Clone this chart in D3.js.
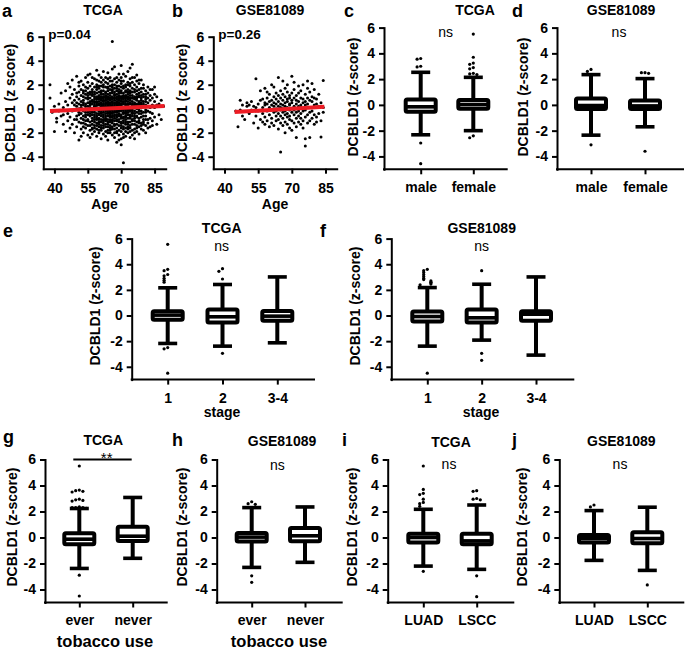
<!DOCTYPE html>
<html><head><meta charset="utf-8">
<script src="https://cdn.jsdelivr.net/npm/d3@7"></script>
<style>
body{margin:0;background:#fff;}
svg{display:block;}
</style></head><body>
<svg id="chart" width="685" height="649"></svg>
<script>
// ---------------- DATA ----------------
const yTicks = [-4, -2, 0, 2, 4, 6];
const ageTicks = [40, 55, 70, 85];

// Panel a: TCGA age vs DCBLD1 (ages, and z-scores listed per age)
const tcgaAges = [38,39,40,41,42,43,44,45,46,47,48,49,50,51,52,53,54,55,56,57,58,59,60,61,62,63,64,65,66,67,68,69,70,71,72,73,74,75,76,77,78,79,80,81,82,83,84,85,86,87,88,89];
const tcgaZ = [
 [2.0,0.9],[-0.3],[-1.9,0.2],[-0.8,-1.1],[0.4,-0.2],[-0.6,1.3],[-1.3,0.1,-0.5],[0.6,-1.9,1.5],
 [2.1,-0.4,0.3,-1.0],[0.9,-0.7,1.8,-1.6],[1.2,-0.2,0.5,-1.3,2.4],[-0.9,0.7,1.6,-0.1,-2.0,0.3],
 [0.2,-1.5,1.0,-0.6,2.7,0.5,1.3,-0.9],
 [-2.6,1.4,-0.3,0.8,-1.1,0.0,1.9,0.4,-0.5,2.2],
 [0.6,-0.8,2.3,-1.7,0.1,1.1,-0.4,-2.3,1.6,-1.2,0.3],
 [1.5,-0.2,0.7,-1.2,0.3,-2.0,1.0,-0.6,2.0,-0.9,0.5,1.3,-1.5],
 [0.4,-1.0,1.8,-0.3,0.9,-1.6,0.0,2.6,-0.7,1.2,1.5,-0.5,0.2,-1.3],
 [-0.5,1.3,0.2,-1.4,0.8,-2.2,1.7,-0.1,0.5,-0.9,2.2,0.9,-0.3,1.1,-1.0,2.8],
 [2.9,-0.4,0.6,-1.1,1.4,0.1,-1.8,0.9,-0.6,1.9,-2.4,0.3,-0.2,1.2,-1.4,0.5,0.0],
 [0.7,-1.3,1.1,-0.2,2.1,-0.8,0.4,-1.6,1.6,-0.5,0.0,-2.1,1.2,1.4,-1.0,0.6,-0.3,2.6,-1.7],
 [-0.9,0.5,1.8,-1.4,0.2,-0.3,2.5,-1.9,1.0,0.6,-0.7,1.4,-1.1,0.1,0.3,-0.5,1.2,-1.6,0.8,-0.1],
 [3.2,0.8,-0.6,1.3,-1.2,0.3,-0.1,2.0,-1.7,0.9,-2.3,1.6,-0.4,0.5,-0.9,1.0,-0.8,0.1,1.8,-1.4,0.6,2.4],
 [-0.2,1.1,-1.5,0.6,2.3,-0.8,0.0,1.7,-1.1,0.4,-2.0,1.0,-0.5,2.8,-1.3,0.8,-0.4,1.4,-1.8,0.3,-0.9,1.9],
 [0.7,-0.4,1.5,-1.8,0.2,1.0,-0.9,2.2,-0.1,0.5,-1.4,1.3,-2.5,0.8,-0.6,1.9,-0.3,1.2,0.0,-1.1,0.9,2.6,-1.6,0.4],
 [-1.0,0.3,1.2,-0.3,2.0,-1.6,0.6,-0.7,1.5,0.0,-2.1,0.9,-1.2,2.4,0.4,-0.5,0.7,-0.1,1.8,-0.9,0.2,-1.4,1.0,3.1],
 [1.4,-0.8,0.1,2.6,-1.3,0.7,-0.2,1.0,-1.9,0.4,1.8,-0.6,-2.3,0.9,-1.0,0.2,1.3,-0.4,0.5,1.1,-1.5,0.0,2.2,-0.9,0.7],
 [0.5,-1.1,1.7,-0.4,0.0,2.1,-1.5,0.8,-0.9,1.2,-2.6,0.3,-0.1,1.5,-1.8,0.6,3.0,1.0,-0.6,0.2,-1.3,1.8,-0.3,0.9,-2.0,2.5],
 [-0.3,0.9,-1.4,1.6,0.2,-0.7,2.3,-1.0,0.5,-2.0,1.1,-0.2,0.7,-1.6,1.9,-0.5,0.1,0.4,-1.1,1.3,-0.4,0.8,-1.8,0.0,2.6,-0.9],
 [5.6,1.0,-0.6,0.3,-1.2,1.8,-0.1,0.6,-2.2,1.3,-0.9,2.0,0.0,-1.5,0.8,-0.4,1.5,3.3,-0.3,0.9,-1.0,1.6,0.2,-1.7,0.5,-0.7,2.3],
 [0.4,-1.0,1.4,-0.2,2.5,-1.7,0.7,-0.5,1.1,-2.4,0.2,1.7,-0.8,0.0,-1.3,0.9,3.5,1.2,-0.3,0.5,-1.4,0.9,-0.6,2.0,0.1,-2.0],
 [-0.7,0.6,1.9,-1.3,0.1,-0.3,1.2,-2.0,0.8,2.2,-0.9,0.3,-1.6,1.5,-0.1,0.5,-2.8,0.4,-1.0,1.0,-0.5,1.7,-1.9,0.2,2.6,-0.2],
 [1.1,-0.4,0.2,-1.8,1.6,0.7,-1.1,2.4,-0.6,0.0,1.3,-2.2,0.4,-0.9,1.9,-0.2,2.9,-0.5,0.9,-1.4,0.5,1.4,-0.1,-2.6,0.7,1.0],
 [0.3,-1.2,1.0,-0.5,2.1,-1.9,0.6,1.5,-0.1,-0.8,0.9,-2.5,1.8,-3.0,0.2,-1.4,2.6,0.7,-0.7,1.3,-0.2,0.4,-1.6,2.3,1.0,-1.1,3.6],
 [-4.5,0.8,-0.3,1.3,-1.5,0.1,2.3,-0.7,0.5,-1.0,1.7,-2.1,0.9,-0.4,1.1,0.0,-1.7,0.4,-1.2,1.0,-0.1,1.9,-0.8,0.6,-2.4,2.9],
 [0.6,-0.9,1.4,-0.2,2.0,-1.6,0.3,1.0,-0.6,-2.3,1.8,0.1,-1.1,0.7,2.7,-0.4,-0.3,1.1,-1.3,0.4,0.9,-0.7,1.5,-1.9,0.0],
 [-0.5,1.2,0.2,-1.3,2.2,-0.1,0.8,-2.0,1.6,-0.8,0.4,3.1,-1.5,0.0,1.0,-0.3,0.6,-1.1,1.4,-0.5,2.0,-1.7,0.3,0.9],
 [1.5,-0.7,0.5,-1.9,0.9,2.5,-0.2,-1.1,1.3,0.1,-2.4,0.7,-0.5,1.9,-1.4,-0.2,1.1,-0.8,0.4,2.1,-1.6,0.0,3.4],
 [3.7,0.2,-1.0,1.1,-0.4,1.7,-1.8,0.6,-0.1,2.2,-0.9,0.9,-2.2,0.4,0.9,-0.6,1.4,-1.3,0.2,2.6,-0.3],
 [-2.5,1.4,-0.6,0.3,2.0,-1.3,0.8,-0.2,1.0,-1.7,0.5,2.6,-0.8,0.4,-1.0,1.6,-0.4,0.9,-2.0,0.1],
 [0.7,-1.1,1.8,-0.3,0.2,-1.9,1.2,-0.6,2.3,0.9,-1.4,0.0,1.0,-0.7,0.4,1.5,-1.6,2.8],
 [-0.8,1.0,0.3,-1.5,1.6,-0.2,2.1,-1.0,0.6,-2.1,1.3,0.5,-0.4,1.1,-1.2,2.4,0.0],
 [0.5,-1.2,1.4,-0.4,0.9,-1.7,2.4,0.1,-0.7,1.1,-0.2,0.7,-1.4,1.7,0.3],
 [-0.3,1.7,-1.3,0.6,-0.9,1.2,0.2,-1.8,2.0,1.0,-0.6,0.4,-1.1],
 [0.8,-0.6,1.5,-1.4,0.3,-0.1,1.0,-2.0,-0.3,1.2,0.6,-0.9],
 [1.3,-0.9,0.5,-0.2,1.8,-1.2,0.2,-1.6,0.9],[0.1,1.1,-0.8,0.7,-1.5,1.6,-0.3],[-0.4,0.9,1.6,-1.0,0.3,-1.4],
 [0.6,-0.7,1.2,1.8,0.1],[-1.3,0.3,1.0],[0.4,-0.5],[0.7,-0.9],[0.2]
];
const tcgaFitAge = [38, 89.5];
const tcgaFitZ = [-0.2, 0.22];

// Panel b: GSE81089 age vs DCBLD1
const gseAges = [45,46,47,48,49,50,51,52,53,54,55,56,57,58,59,60,61,62,63,64,65,66,67,68,69,70,71,72,73,74,75,76,77,78,79,80,81,82,83,84];
const gseZ = [
 [-0.2],[-1.5],[0.7,-0.1],[0.3,-0.6],[-0.9],[0.2,0.5],[-0.4,0.3],[0.6,-0.1],[-1.2,0.2],[2.5,-0.6,0.1],
 [-1.6,0.4,-0.2],[0.7,-0.9,1.5],[0.1,-0.4,0.8,-1.1],[1.7,-0.7,0.3,-1.3,0.5],[-0.2,0.9,-1.0,0.4,1.4],
 [0.6,-0.5,1.2,-1.5,0.1],[-0.8,0.3,2.0,-0.1,0.7,-1.2],[0.5,-1.4,1.0,-0.3,0.2,1.8],[-0.6,0.8,-1.0,1.3,0.0,-0.2,0.4],
 [2.6,-0.4,0.6,-1.7,0.2,1.1,-0.9],[-3.6,0.9,-0.1,-1.2,0.4,1.5,-0.6,0.1],[0.3,-0.8,1.2,2.3,-0.3,0.7,-1.4,0.0],
 [-2.0,1.0,-0.5,0.5,-1.1,1.7,0.2,-0.2],[0.8,-0.7,1.4,-1.3,0.1,2.0,-0.4,0.6],[-0.1,1.1,-0.9,0.4,-1.6,0.9,0.3,-0.6],
 [2.7,-0.3,0.7,-1.0,1.3,0.0,-1.8,0.5],[0.2,-1.2,1.6,-0.5,0.9,-0.1,2.2],[-0.8,0.4,-1.5,1.1,0.0,0.7,-0.3,-2.4],
 [1.3,-0.6,0.6,-1.1,0.2,1.9,-0.2],[-0.4,0.9,-1.3,0.3,1.5,-0.8,0.1],[0.5,-1.0,2.0,-0.2,0.8,-1.6],
 [-3.1,0.3,1.2,-0.7,0.6,-0.1,-2.5],[1.7,-0.5,0.4,-1.2,0.9,2.3],[-0.3,0.7,-1.0,1.4,0.1,-2.4],
 [0.6,-0.8,1.0,-0.2,2.1],[-1.3,0.3,0.9,-0.5,1.6],[0.4,-0.7,-1.1,0.8],[1.2,-0.4,0.2],[-2.35,0.5,-1.0],[2.35,0.1,-0.3]
];
const gseFitAge = [44.5, 84.5];
const gseFitZ = [-0.28, 0.17];

// Box panels: stats = [whisker low, Q1, median, Q3, whisker high]
const sexCats = ["male", "female"];
const stageCats = ["1", "2", "3-4"];
const smokeCats = ["ever", "never"];
const histCats = ["LUAD", "LSCC"];

const cStats = [[-2.32,-0.54,-0.15,0.41,2.53],[-2.0,-0.3,0.03,0.37,2.14]];
const cOut = [[3.6,3.55,3.0,2.95,-2.96,-4.56],[5.5,3.7,3.25,3.15,2.9,2.8,2.45,2.4,2.35,-2.4,-2.55]];
const dStats = [[-2.35,-0.31,-0.05,0.49,2.35],[-1.7,-0.31,-0.08,0.34,2.04]];
const dOut = [[2.75,2.6,-3.1],[2.5,2.5,2.45,-3.6]];
const eStats = [[-2.18,-0.33,0.03,0.33,2.16],[-2.39,-0.54,-0.1,0.46,2.42],[-2.13,-0.41,-0.05,0.36,3.01]];
const eOut = [[5.55,3.6,3.5,3.2,3.1,2.9,2.75,2.6,-2.5,-2.6,-4.5],[3.65,3.45,2.85,-2.95],[]];
const fStats = [[-2.39,-0.47,-0.08,0.31,2.18],[-1.92,-0.54,-0.18,0.46,2.44],[-3.09,-0.41,0.1,0.33,3.01]];
const fOut = [[3.6,3.5,3.35,3.2,3.05,2.9,2.8,2.7,2.6,2.55,2.45,2.4,-4.5],[3.5,-2.95,-3.5],[]];
const gStats = [[-2.38,-0.51,-0.13,0.33,2.23],[-1.6,-0.27,0.1,0.82,3.08]];
const gOut = [[5.5,3.65,3.6,3.55,3.5,2.95,2.9,2.85,2.8,2.35,2.3,2.3,2.3,2.25,-2.9,-4.5],[]];
const hStats = [[-2.3,-0.3,0.03,0.35,2.3],[-1.91,-0.28,0.13,0.74,2.35]];
const hOut = [[2.75,2.6,2.55,-2.95,-3.45],[]];
const iStats = [[-2.2,-0.38,0.0,0.28,2.17],[-2.45,-0.51,-0.26,0.28,2.5]];
const iOut = [[5.5,3.7,3.4,3.3,2.95,2.7,2.6,2.4,-2.6],[3.6,3.55,3.0,2.95,2.9,-2.95,-4.55]];
const jStats = [[-1.76,-0.38,-0.08,0.2,2.07],[-2.53,-0.44,-0.08,0.41,2.33]];
const jOut = [[2.5,2.35],[-3.65]];

// ---------------- DRAWING ----------------
const FONT = '"Liberation Sans", Arial, Helvetica, sans-serif';
const svg = d3.select("#chart").attr("font-family", FONT);
const SW = 4;

function label(x, y, s, size, weight, anchor, rotate) {
  const t = svg.append("text").text(s)
    .attr("font-size", size).attr("font-weight", weight || "normal")
    .attr("text-anchor", anchor || "middle").attr("fill", "#000");
  if (rotate) t.attr("transform", `translate(${x},${y}) rotate(-90)`).attr("dy", "0.35em");
  else t.attr("x", x).attr("y", y);
  return t;
}

function styleAxis(ax) {
  ax.attr("font-size", 14).attr("font-weight", "bold").attr("font-family", FONT);
  ax.select(".domain").attr("stroke", "#000").attr("stroke-width", 2).attr("stroke-linecap", "square");
  ax.selectAll(".tick line").attr("stroke", "#000").attr("stroke-width", 2);
  ax.selectAll(".tick text").attr("fill", "#000");
}

function yAxis(y, x) {
  const ax = svg.append("g").attr("transform", `translate(${x},0)`)
    .call(d3.axisLeft(y).tickValues(yTicks).tickFormat(d => String(d)).tickSize(5).tickSizeOuter(0).tickPadding(4));
  styleAxis(ax);
}

function scatterPanel(cfg, ages, zs, fitA, fitZ, pText) {
  const x = d3.scaleLinear().domain([35, 90]).range([cfg.axisX, cfg.xEnd]);
  const y = d3.scaleLinear().domain([-5, 6]).range([cfg.yBot, cfg.yTop]);
  const pts = ages.flatMap((a, i) => zs[i].map(z => [a, z]));
  svg.append("g").selectAll("circle").data(pts).join("circle")
    .attr("cx", d => x(d[0])).attr("cy", d => y(d[1])).attr("r", 1.5).attr("fill", "#000");
  const fit = fitA.map((a, i) => [a, fitZ[i]]);
  svg.append("path").datum(fit).attr("d", d3.line().x(d => x(d[0])).y(d => y(d[1])))
    .attr("stroke", "#ec1c24").attr("stroke-width", 4).attr("fill", "none");
  yAxis(y, cfg.axisX);
  const ax = svg.append("g").attr("transform", `translate(0,${cfg.yBot})`)
    .call(d3.axisBottom(x).tickValues(ageTicks).tickSize(5).tickSizeOuter(0).tickPadding(9));
  styleAxis(ax);
  label(cfg.axisX + 5, 38.5, pText, 13.5, "bold", "start");
}

function boxPanel(cfg, cats, stats, outs) {
  const y = d3.scaleLinear().domain([-5, 6]).range([cfg.yBot, cfg.yTop]);
  const x = d3.scalePoint().domain(cats).range([cfg.c1, cfg.cN]);
  const g = svg.append("g");
  cats.forEach((c, i) => {
    const [lo, q1, md, q3, hi] = stats[i];
    const cx = x(c);
    g.append("line").attr("x1", cx).attr("x2", cx).attr("y1", y(hi)).attr("y2", y(lo))
      .attr("stroke", "#000").attr("stroke-width", SW);
    [lo, hi].forEach(v => g.append("line").attr("x1", cx - 9.5).attr("x2", cx + 9.5)
      .attr("y1", y(v)).attr("y2", y(v)).attr("stroke", "#000").attr("stroke-width", 3.6));
    g.append("rect").attr("x", cx - 15).attr("width", 30).attr("y", y(q3)).attr("height", y(q1) - y(q3))
      .attr("fill", "#fff").attr("stroke", "#000").attr("stroke-width", SW).attr("rx", 1.5);
    g.append("line").attr("x1", cx - 15).attr("x2", cx + 15).attr("y1", y(md)).attr("y2", y(md))
      .attr("stroke", "#000").attr("stroke-width", 3.6);
    const placed = [];
    outs[i].slice().sort((a, b) => b - a).forEach(v => {
      const py = y(v);
      const k = placed.filter(p => Math.abs(p - py) < 3.2).length;
      const dx = k === 0 ? 0 : (k % 2 === 1 ? -1 : 1) * Math.ceil(k / 2) * 3.6;
      placed.push(py);
      g.append("circle").attr("cx", cx + dx).attr("cy", py).attr("r", 1.6).attr("fill", "#000");
    });
  });
  yAxis(y, cfg.axisX);
  const ax = svg.append("g").attr("transform", `translate(0,${cfg.yBot})`)
    .call(d3.axisBottom(x).tickSize(5).tickSizeOuter(0).tickPadding(8));
  styleAxis(ax);
  ax.select(".domain").remove();
  svg.append("line").attr("x1", cfg.axisX).attr("x2", cfg.xEnd).attr("y1", cfg.yBot).attr("y2", cfg.yBot)
    .attr("stroke", "#000").attr("stroke-width", 2).attr("stroke-linecap", "square");
  return {x, y};
}

// layout
const rowA = {yTop: 36.7, yBot: 168.7};
const rowC = {yTop: 27.6, yBot: 169.3};
const rowE = {yTop: 238.6, yBot: 379.6};
const rowG = {yTop: 459.5, yBot: 602.5};

scatterPanel({...rowA, axisX: 43.3, xEnd: 165.7}, tcgaAges, tcgaZ, tcgaFitAge, tcgaFitZ, "p=0.04");
scatterPanel({...rowA, axisX: 213.3, xEnd: 336.7}, gseAges, gseZ, gseFitAge, gseFitZ, "p=0.26");
boxPanel({...rowC, axisX: 384, c1: 420.7, cN: 473.3, xEnd: 506.7}, sexCats, cStats, cOut);
boxPanel({...rowC, axisX: 557, c1: 591, cN: 645, xEnd: 683}, sexCats, dStats, dOut);
boxPanel({...rowE, axisX: 131.7, c1: 167.7, cN: 277.3, xEnd: 314}, stageCats, eStats, eOut);
boxPanel({...rowE, axisX: 391.3, c1: 427.3, cN: 536, xEnd: 573.3}, stageCats, fStats, fOut);
const gp = boxPanel({...rowG, axisX: 45, c1: 79.3, cN: 132.7, xEnd: 166.7}, smokeCats, gStats, gOut);
boxPanel({...rowG, axisX: 216.7, c1: 251.7, cN: 305, xEnd: 341.7}, smokeCats, hStats, hOut);
boxPanel({...rowG, axisX: 387.7, c1: 423.3, cN: 476.7, xEnd: 513.3}, histCats, iStats, iOut);
boxPanel({...rowG, axisX: 559.3, c1: 594, cN: 647.3, xEnd: 683.3}, histCats, jStats, jOut);

// significance bar in g
svg.append("line").attr("x1", gp.x("ever") - 6).attr("x2", gp.x("never") - 1)
  .attr("y1", gp.y(6)).attr("y2", gp.y(6)).attr("stroke", "#000").attr("stroke-width", 2);
label(106.7, 463, "**", 15, "normal");

// titles
[["TCGA",103,15],["GSE81089",270,15],["TCGA",475,15],["GSE81089",621,15],
 ["TCGA",221.7,233],["GSE81089",481.7,233],["TCGA",103.3,445],["GSE81089",282,446],
 ["TCGA",451,447],["GSE81089",621.3,446]].forEach(t => label(t[1], t[2], t[0], 14, "bold"));
// ns
[[445.7,36.5],[619,37],[221.7,250.5],[481.7,250.5],[277.3,469.5],[449,469],[620,469]]
  .forEach(p => label(p[0], p[1], "ns", 14, "normal"));
// panel letters
[["a",2,16.5],["b",172,16.5],["c",344,16.5],["d",512,16.5],["e",3,237],["f",320,237],
 ["g",3,443],["h",172,446],["i",342,446],["j",512,446]].forEach(t => label(t[1], t[2], t[0], 18, "bold", "start"));
// y labels
[[10,103,"DCBLD1 (z score)"],[181.7,103,"DCBLD1 (z score)"],[353,97,"DCBLD1 (z-score)"],[523,97,"DCBLD1 (z-score)"],
 [95,306,"DCBLD1 (z-score)"],[355,306,"DCBLD1 (z-score)"],[12,527,"DCBLD1 (z-score)"],[181.7,527,"DCBLD1 (z-score)"],
 [351.7,527,"DCBLD1 (z-score)"],[521.7,527,"DCBLD1 (z-score)"]].forEach(t => label(t[0], t[1], t[2], 14, "bold", "middle", true));
// x titles
label(104.5, 209, "Age", 14, "bold");
label(275, 209, "Age", 14, "bold");
label(222, 417, "stage", 14, "bold");
label(481, 417, "stage", 14, "bold");
label(105, 647, "tobacco use", 16.5, "bold");
label(279, 647, "tobacco use", 16.5, "bold");
</script>
</body></html>
